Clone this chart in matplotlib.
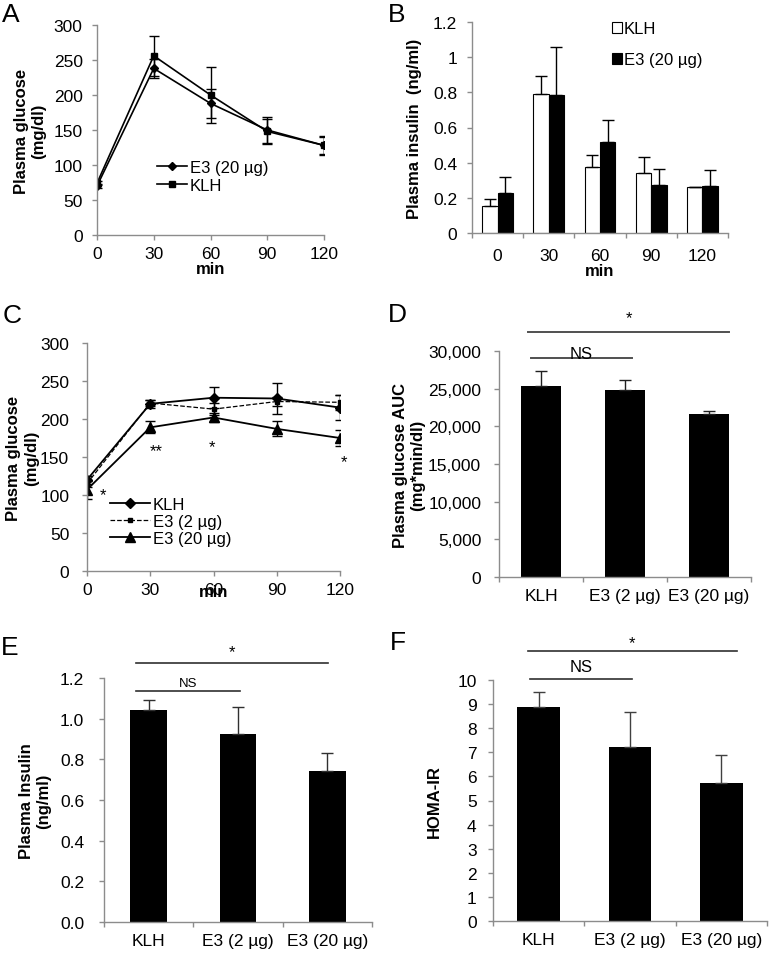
import numpy as np
import matplotlib.pyplot as plt
from matplotlib.ticker import FuncFormatter, FixedLocator

plt.rcParams['font.family'] = ['Liberation Sans', 'DejaVu Sans']
plt.rcParams['font.size'] = 12
plt.rcParams['xtick.labelsize'] = 12.5
plt.rcParams['ytick.labelsize'] = 12.5

W, H = 770, 954
GREY = '#8c8c8c'

# ---- data ----
minutes = [0, 30, 60, 90, 120]

# A: glucose tolerance, plasma glucose
a_e3_20 = [70, 238, 188, 150, 128]
a_e3_20_err = [3, 14, 21, 18, 13]
a_klh = [74, 256, 200, 148, 128]
a_klh_err = [3, 29, 40, 18, 12]

# B: plasma insulin
b_klh = [0.155, 0.79, 0.375, 0.34, 0.26]
b_klh_err = [0.04, 0.105, 0.07, 0.09, 0.0]
b_e3_20 = [0.23, 0.785, 0.515, 0.275, 0.27]
b_e3_20_err = [0.09, 0.27, 0.125, 0.09, 0.09]

# C: plasma glucose, three groups
c_klh = [120, 220, 228, 227, 215]
c_klh_err = [5, 5, 14, 20, 16]
c_e3_2 = [115, 221, 213, 223, 222]
c_e3_2_err = [4, 4, 8, 6, 10]
c_e3_20 = [107, 189, 202, 187, 175]
c_e3_20_err = [12, 8, 6, 10, 11]
c_stars = ['*', '**', '*', '*']
c_star_x = [7.6, 33, 59.3, 122]
c_star_y = [100, 158, 163, 144]

# D, E, F: group summaries
groups = ['KLH', 'E3 (2 \u00b5g)', 'E3 (20 \u00b5g)']
d_auc = [25300, 24850, 21600]
d_auc_err = [2000, 1350, 450]
e_ins = [1.045, 0.925, 0.745]
e_ins_err = [0.045, 0.13, 0.085]
f_homa = [8.9, 7.2, 5.72]
f_homa_err = [0.6, 1.48, 1.18]

fig = plt.figure(figsize=(W / 100, H / 100), dpi=100)


def panel(l, t, r, b):
    return fig.add_axes([l / W, 1 - b / H, (r - l) / W, (b - t) / H])


def style(ax, ypad):
    for s in ['top', 'right']:
        ax.spines[s].set_visible(False)
    for s in ['left', 'bottom']:
        ax.spines[s].set_color(GREY)
        ax.spines[s].set_linewidth(1)
    ax.tick_params(which='both', color=GREY, length=3.8, width=1, direction='out')
    ax.tick_params(axis='y', pad=ypad)
    ax.tick_params(axis='x', pad=4)


def category_axis(ax, n, labels):
    ax.set_xlim(-0.5, n - 0.5)
    ax.xaxis.set_major_locator(FixedLocator(np.arange(n + 1) - 0.5))
    ax.xaxis.set_major_formatter(FuncFormatter(lambda v, p: ''))
    ax.xaxis.set_minor_locator(FixedLocator(np.arange(n)))
    ax.set_xticklabels(labels, minor=True)
    ax.tick_params(axis='x', which='minor', length=0, pad=8)


def letter(x, y, s):
    fig.text(x / W, 1 - y / H, s, fontsize=19, va='baseline', ha='left')


def sig(ax, x0, x1, y, s, dy, lw=1.4, color='#505050', fs=12):
    ax.plot([x0, x1], [y, y], color=color, lw=lw, clip_on=False)
    ax.annotate(s, xy=((x0 + x1) / 2, y), xytext=(0, dy), textcoords='offset points',
                ha='center', va='baseline', fontsize=fs, annotation_clip=False)


# ---- A ----
ax = panel(97, 26, 324, 236)
style(ax, 6.5)
ax.errorbar(minutes, a_e3_20, yerr=a_e3_20_err, color='black', lw=1.2, marker='D', ms=4,
            capsize=3.5, elinewidth=1, label='E3 (20 \u00b5g)')
ax.errorbar(minutes, a_klh, yerr=a_klh_err, color='black', lw=1.2, marker='s', ms=5,
            capsize=3.5, elinewidth=1, label='KLH')
ax.set_xlim(0, 120)
ax.set_ylim(0, 300)
ax.set_xticks(minutes)
ax.set_yticks(np.arange(0, 301, 50))
ax.set_xlabel('min', fontweight='bold', labelpad=0)
ax.set_ylabel('Plasma glucose\n(mg/dl)', fontweight='bold', labelpad=5)
h, l = ax.get_legend_handles_labels()
ax.legend([x[0] for x in h], l, loc='upper left', bbox_to_anchor=(0.265, 0.357),
          frameon=False, borderpad=0, borderaxespad=0, handlelength=1.8,
          handletextpad=0.15, labelspacing=0.15)
letter(2, 22, 'A')

# ---- B ----
ax = panel(472, 23, 728, 234)
style(ax, 7)
xb = np.arange(len(minutes))
bw = 0.3
ax.bar(xb - bw / 2, b_klh, bw, color='white', edgecolor='black', lw=0.8, label='KLH')
ax.bar(xb + bw / 2, b_e3_20, bw, color='black', edgecolor='black', lw=0.8, label='E3 (20 \u00b5g)')
ax.errorbar(xb - bw / 2, b_klh, yerr=[np.zeros(5), b_klh_err], fmt='none', ecolor='black',
            elinewidth=1, capsize=4)
ax.errorbar(xb + bw / 2, b_e3_20, yerr=[np.zeros(5), b_e3_20_err], fmt='none', ecolor='black',
            elinewidth=1, capsize=4)
category_axis(ax, 5, [str(m) for m in minutes])
ax.tick_params(axis='x', which='minor', pad=11)
ax.set_ylim(0, 1.2)
ax.set_yticks(np.arange(0, 1.21, 0.2))
ax.yaxis.set_major_formatter(FuncFormatter(lambda v, p: '%g' % round(v, 1)))
ax.set_xlabel('min', fontweight='bold', labelpad=0)
ax.set_ylabel('Plasma insulin  (ng/ml)', fontweight='bold', labelpad=8)
ax.legend(loc='upper left', bbox_to_anchor=(0.545, 1.003), frameon=False, borderpad=0,
          borderaxespad=0, handlelength=0.6, handleheight=0.6, handletextpad=0.12,
          labelspacing=0.95)
letter(388, 22, 'B')

# ---- C ----
ax = panel(87, 344, 340, 572)
style(ax, 9)
ax.errorbar(minutes, c_klh, yerr=c_klh_err, color='black', lw=1.3, marker='D', ms=5.5,
            capsize=3.5, elinewidth=1, label='KLH')
ax.errorbar(minutes, c_e3_2, yerr=c_e3_2_err, color='black', lw=0.9, ls='--', marker='s', ms=3.5,
            capsize=3.5, elinewidth=1, label='E3 (2 \u00b5g)')
ax.errorbar(minutes, c_e3_20, yerr=c_e3_20_err, color='black', lw=1.3, marker='^', ms=7,
            capsize=3.5, elinewidth=1, label='E3 (20 \u00b5g)')
for s, x, y in zip(c_stars, c_star_x, c_star_y):
    ax.text(x, y, s, ha='center', va='center', fontsize=12)
ax.set_xlim(0, 120)
ax.set_ylim(0, 300)
ax.set_xticks(minutes)
ax.set_yticks(np.arange(0, 301, 50))
ax.set_xlabel('min', fontweight='bold', labelpad=-9)
ax.set_ylabel('Plasma glucose\n(mg/dl)', fontweight='bold', labelpad=1)
h, l = ax.get_legend_handles_labels()
ax.legend([x[0] for x in h], l, loc='upper left', bbox_to_anchor=(0.09, 0.324),
          frameon=False, borderpad=0, borderaxespad=0, handlelength=2.4,
          handletextpad=0.2, labelspacing=0.11)
letter(3, 323, 'C')

# ---- D ----
ax = panel(499, 352, 751, 578)
style(ax, 9)
xg = np.arange(len(groups))
ax.bar(xg, d_auc, 0.48, color='black')
ax.errorbar(xg, d_auc, yerr=[np.zeros(3), d_auc_err], fmt='none', ecolor='#202020',
            elinewidth=1, capsize=4.5)
category_axis(ax, 3, groups)
ax.set_ylim(0, 30000)
ax.set_yticks(np.arange(0, 30001, 5000))
ax.yaxis.set_major_formatter(FuncFormatter(lambda v, p: '{:,.0f}'.format(v)))
ax.set_ylabel('Plasma glucose AUC\n(mg*min/dl)', fontweight='bold', labelpad=2)
sig(ax, xg[0] - 0.15, xg[2] + 0.24, 32500, '*', 7)
sig(ax, xg[0] - 0.12, xg[1] + 0.08, 29070, 'NS', 0)
letter(388, 322, 'D')

# ---- E ----
ax = panel(104, 679, 372, 923)
style(ax, 10.5)
ax.bar(xg, e_ins, 0.41, color='black')
ax.errorbar(xg, e_ins, yerr=[np.zeros(3), e_ins_err], fmt='none', ecolor='#303030',
            elinewidth=1, capsize=4.5)
category_axis(ax, 3, groups)
ax.set_ylim(0, 1.2)
ax.set_yticks(np.arange(0, 1.21, 0.2))
ax.yaxis.set_major_formatter(FuncFormatter(lambda v, p: '%.1f' % v))
ax.set_ylabel('Plasma Insulin\n(ng/ml)', fontweight='bold', labelpad=6)
sig(ax, xg[0] - 0.14, xg[2] + 0.01, 1.274, '*', 5, color='#303030', lw=1.2)
sig(ax, xg[0] - 0.14, xg[1] + 0.02, 1.136, 'NS', 3.5, color='#303030', lw=1.2, fs=9.5)
letter(1, 655, 'E')

# ---- F ----
ax = panel(493, 681, 767, 922)
style(ax, 8)
ax.bar(xg, f_homa, 0.47, color='black')
ax.errorbar(xg, f_homa, yerr=[np.zeros(3), f_homa_err], fmt='none', ecolor='#404040',
            elinewidth=1, capsize=4.5)
category_axis(ax, 3, groups)
ax.set_ylim(0, 10)
ax.set_yticks(np.arange(0, 11, 1))
ax.set_ylabel('HOMA-IR', fontweight='bold', labelpad=11)
sig(ax, xg[0] - 0.12, xg[2] + 0.17, 11.2, '*', 3, color='#303030', lw=1.2)
sig(ax, xg[0] - 0.1, xg[1] + 0.02, 10.04, 'NS', 6, color='#303030', lw=1.2)
letter(390, 650, 'F')

fig.savefig('out.png', dpi=100)
